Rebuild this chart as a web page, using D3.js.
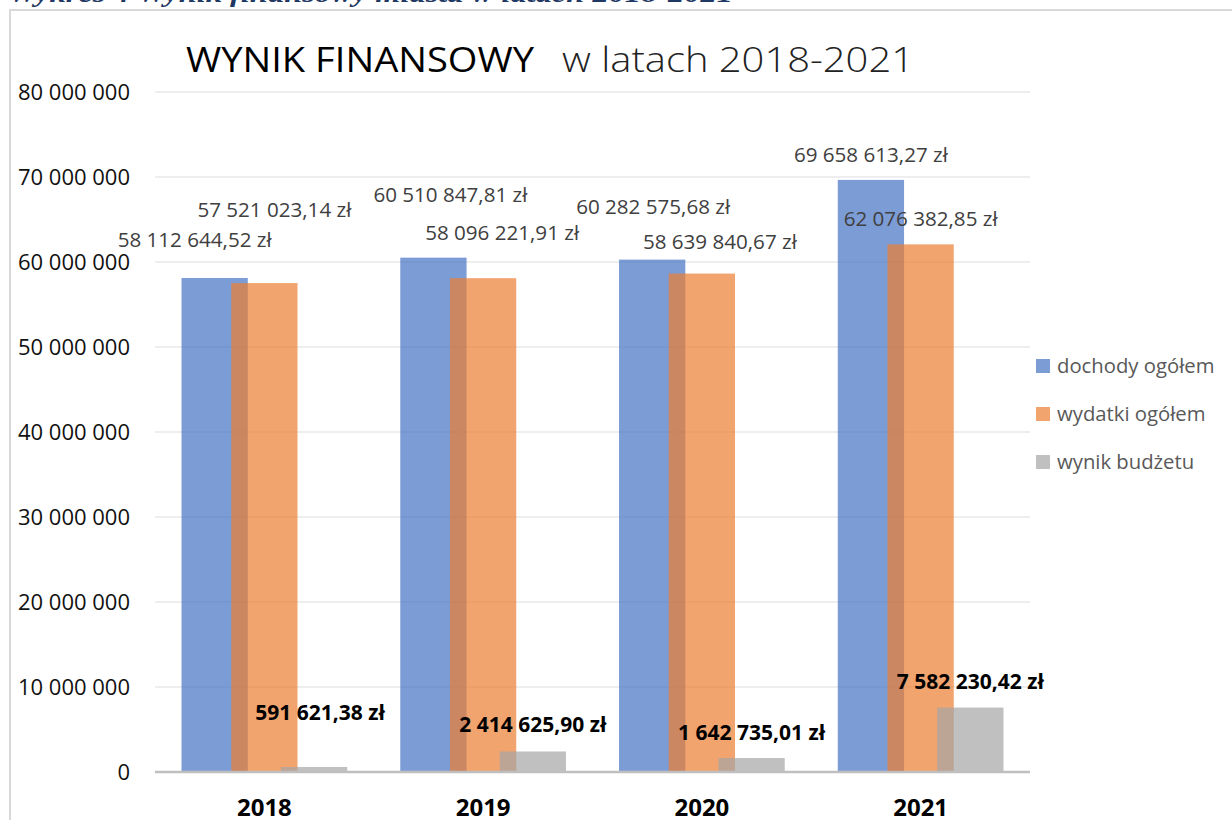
<!DOCTYPE html>
<html>
<head>
<meta charset="utf-8">
<script src="https://cdn.jsdelivr.net/npm/d3@7"></script>
<style>
  html, body { margin: 0; padding: 0; background: #fff; }
  svg { display: block; }
</style>
</head>
<body>
<svg id="chart" width="1232" height="820"></svg>
<script>
// ---- data ----
const years = ["2018", "2019", "2020", "2021"];
const seriesNames = ["dochody ogółem", "wydatki ogółem", "wynik budżetu"];
const dochody = [58112644.52, 60510847.81, 60282575.68, 69658613.27];
const wydatki = [57521023.14, 58096221.91, 58639840.67, 62076382.85];
const wynik = [591621.38, 2414625.90, 1642735.01, 7582230.42];
const yTicks = [0, 10000000, 20000000, 30000000, 40000000, 50000000, 60000000, 70000000, 80000000];

// label nudges (relative to bar top-centre), per series per year
const labelNudge = [
  [[-20, -31], [17, -56], [1, -46], [0, -18]],
  [[10, -66], [19, -38], [18, -25], [0, -18]],
  [[6, -47], [0, -19], [0, -18], [0, -19]]
];

const seriesValues = [dochody, wydatki, wynik];
const colors = ["#4472C4", "#ED7D31", "#A5A5A5"];

const svg = d3.select("#chart");
const FONT = "'Open Sans', 'Noto Sans', sans-serif";

// outer caption (cut off at top)
svg.append("text")
  .attr("x", 8).attr("y", 2)
  .attr("textLength", 725).attr("lengthAdjust", "spacingAndGlyphs")
  .style("font-family", "'Liberation Serif', serif")
  .style("font-style", "italic").style("font-weight", "bold")
  .style("font-size", "26px").style("fill", "#1F3864")
  .text("Wykres 4 Wynik finansowy miasta w latach 2018-2021");

// chart frame
svg.append("rect")
  .attr("x", 10).attr("y", 10).attr("width", 1240).attr("height", 830)
  .attr("fill", "none").attr("stroke", "#d9d9d9").attr("stroke-width", 2);

// scales
const x = d3.scaleBand().domain(years).range([155, 1030]).paddingInner(0).paddingOuter(0);
const y = d3.scaleLinear().domain([0, 80000000]).range([772, 92]);

const bw = x.bandwidth();
const overlap = 0.25, gap = 0.8;
const barW = bw / (3 - 2 * overlap + gap);
const step = barW * (1 - overlap);
const groupW = barW + 2 * step;
function barX(si, yr) {
  return x(yr) + bw / 2 - groupW / 2 + si * step;
}

// gridlines
svg.append("g").selectAll("line").data(yTicks.filter(d => d > 0)).join("line")
  .attr("x1", 155).attr("x2", 1030)
  .attr("y1", d => y(d)).attr("y2", d => y(d))
  .attr("stroke", "#e9e9e9").attr("stroke-width", 1.5);

// y axis
const yAxis = d3.axisLeft(y).tickValues(yTicks).tickSize(0).tickPadding(0)
  .tickFormat(d => d3.format(",")(d).replace(/,/g, " "));
const gy = svg.append("g").attr("transform", "translate(130,0)").call(yAxis);
gy.select(".domain").remove();
gy.selectAll("text")
  .style("font-family", FONT).style("font-size", "22px").style("fill", "#111")
  .attr("dy", "0.35em");

// bars
seriesValues.forEach((vals, si) => {
  svg.append("g").selectAll("rect").data(vals).join("rect")
    .attr("x", (d, i) => barX(si, years[i]))
    .attr("y", d => y(d))
    .attr("width", barW)
    .attr("height", d => y(0) - y(d))
    .attr("fill", colors[si]).attr("fill-opacity", 0.7);
});

// baseline
svg.append("line")
  .attr("x1", 155).attr("x2", 1030).attr("y1", y(0)).attr("y2", y(0))
  .attr("stroke", "#bfbfbf").attr("stroke-width", 2.5);

// value labels
const fmtPL = v => {
  const parts = v.toFixed(2).split(".");
  return parts[0].replace(/\B(?=(\d{3})+(?!\d))/g, " ") + "," + parts[1] + " zł";
};
seriesValues.forEach((vals, si) => {
  svg.append("g").selectAll("text").data(vals).join("text")
    .attr("x", (d, i) => barX(si, years[i]) + barW / 2 + labelNudge[si][i][0])
    .attr("y", (d, i) => y(d) + labelNudge[si][i][1])
    .attr("text-anchor", "middle")
    .style("font-family", FONT)
    .style("font-size", si === 2 ? "21px" : "20.6px")
    .style("font-weight", si === 2 ? "bold" : "normal")
    .style("fill", si === 2 ? "#000" : "#404040")
    .text(d => fmtPL(d));
});

// x axis labels
const xAxis = d3.axisBottom(x).tickSize(0).tickPadding(0);
const gx = svg.append("g").attr("transform", "translate(0,816)").call(xAxis);
gx.select(".domain").remove();
gx.selectAll("text")
  .attr("dy", 0).attr("y", 0)
  .style("font-family", FONT).style("font-size", "24px")
  .style("font-weight", "bold").style("fill", "#000");

// title
const title = svg.append("text").attr("x", 186).attr("y", 72)
  .style("font-family", FONT).style("font-size", "35px");
title.append("tspan").style("fill", "#000")
  .attr("textLength", 348).attr("lengthAdjust", "spacingAndGlyphs")
  .text("WYNIK FINANSOWY");
title.append("tspan").attr("x", 562).style("fill", "#222").style("font-weight", 300)
  .attr("textLength", 352).attr("lengthAdjust", "spacingAndGlyphs")
  .text("w latach 2018-2021");

// legend
const lg = svg.append("g");
seriesNames.forEach((name, i) => {
  const gy0 = 359 + i * 48;
  lg.append("rect").attr("x", 1036).attr("y", gy0).attr("width", 14).attr("height", 14)
    .attr("fill", colors[i]).attr("fill-opacity", 0.7);
  lg.append("text").attr("x", 1057).attr("y", gy0 + 14)
    .style("font-family", FONT).style("font-size", "20.3px").style("fill", "#595959")
    .text(name);
});
</script>
</body>
</html>
